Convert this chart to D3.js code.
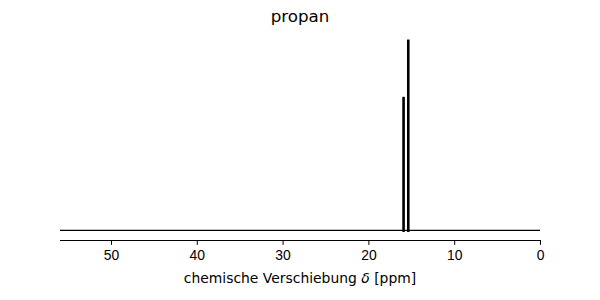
<!DOCTYPE html>
<html lang="de">
<head>
    <meta charset="UTF-8">
    <title>propan</title>
    <script src="https://d3js.org/d3.v7.min.js"></script>
    <style>
        body { margin: 0; background: #fff; }
        svg { font-family: "DejaVu Sans", sans-serif; }
        .axis text { font-size: 13.9px; fill: #000; }
        .axis line { stroke: #000; stroke-width: 1px; }
    </style>
</head>
<body>
    <svg width="600" height="300"></svg>
    <script>
        // chemical shifts (ppm) and relative intensities
        const shifts = [15.9, 15.35];
        const intensities = [0.7, 1.0];
        const xTicks = [50, 40, 30, 20, 10, 0];

        const margin = {left: 60, right: 60, top: 30, bottom: 60};
        const width = 600 - margin.left - margin.right;
        const height = 300 - margin.top - margin.bottom;

        const svg = d3.select("svg")
            .append("g")
            .attr("transform", `translate(${margin.left},${margin.top})`);

        const x = d3.scaleLinear().domain([55.94, 0]).range([0, width]);
        const y = d3.scaleLinear().domain([-0.05, 1.05]).range([height, 0]);

        // zero baseline
        svg.append("line")
            .attr("x1", 0).attr("x2", width)
            .attr("y1", y(0)).attr("y2", y(0))
            .attr("stroke", "#000")
            .attr("stroke-width", 1.2);

        // sticks
        svg.selectAll(".stick")
            .data(shifts)
            .enter().append("line")
            .attr("class", "stick")
            .attr("x1", d => x(d)).attr("x2", d => x(d))
            .attr("y1", y(0) + 1.5)
            .attr("y2", (d, i) => y(intensities[i]))
            .attr("stroke", "#000")
            .attr("stroke-width", 2.6);

        const xAxis = d3.axisBottom(x)
            .tickValues(xTicks)
            .tickFormat(d3.format("d"))
            .tickSizeOuter(0)
            .tickSize(4.9)
            .tickPadding(4.9);

        const gx = svg.append("g")
            .attr("class", "axis")
            .attr("transform", `translate(0,${height})`)
            .call(xAxis);
        gx.select(".domain").remove();

        // bottom spine
        svg.append("line")
            .attr("x1", 0).attr("x2", width)
            .attr("y1", height + 0.5).attr("y2", height + 0.5)
            .attr("stroke", "#000")
            .attr("stroke-width", 1);

        svg.append("text")
            .attr("x", width / 2)
            .attr("y", height + 43)
            .attr("text-anchor", "middle")
            .style("font-size", "13.9px")
            .html('chemische Verschiebung <tspan font-style="italic">δ</tspan> [ppm]');

        svg.append("text")
            .attr("x", width / 2)
            .attr("y", -8)
            .attr("text-anchor", "middle")
            .style("font-size", "16.7px")
            .text("propan");
    </script>
</body>
</html>
